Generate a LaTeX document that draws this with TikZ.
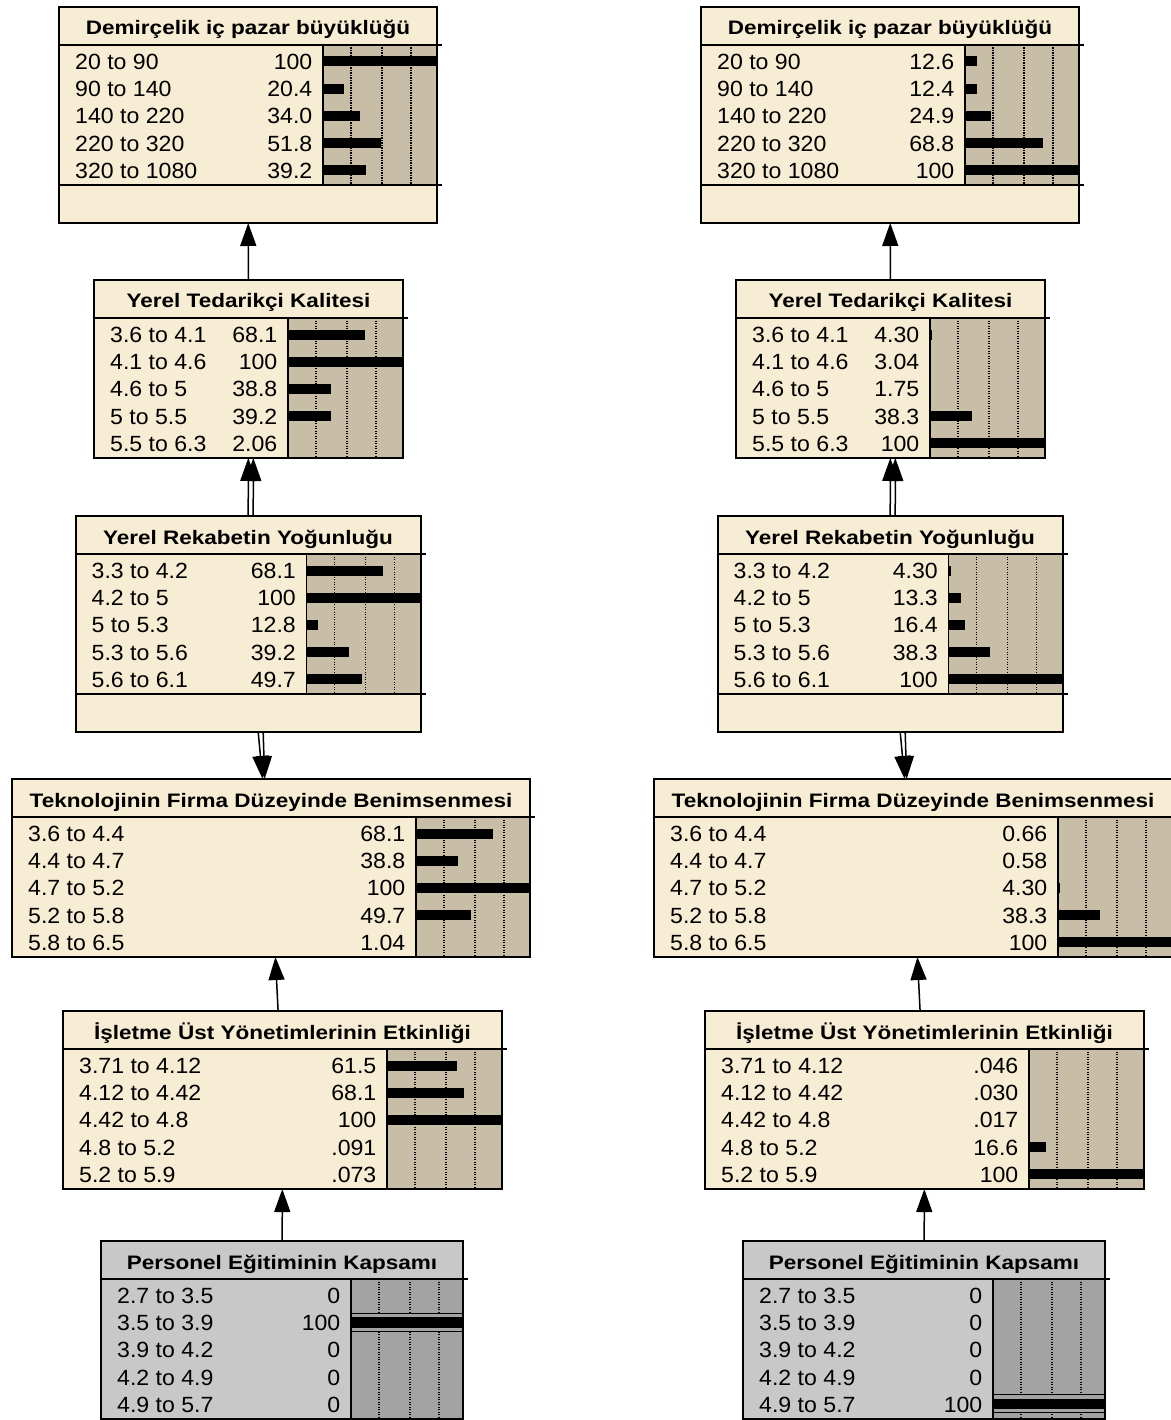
\documentclass[tikz,border=0pt]{standalone}
\usepackage{fontspec}
\usepackage{graphicx}
\usetikzlibrary{arrows.meta,calc}
\newfontfamily\rowfont[FakeStretch=1.05]{Liberation Sans}
\newfontfamily\ttlfont[FakeStretch=1.155]{Liberation Sans}
\definecolor{beigebody}{RGB}{247,236,212}
\definecolor{beigepanel}{RGB}{200,190,168}
\definecolor{graybody}{RGB}{200,200,200}
\definecolor{graypanel}{RGB}{163,163,163}
\tikzset{
  boxframe/.style={draw=black, line width=2pt, inner sep=0pt, outer sep=0pt, anchor=north west},
  sepline/.style={line width=1.6pt},
  gridline/.style={line width=1.3pt, dash pattern=on 1.2pt off 1.3pt},
  rowtext/.style={inner sep=0pt, font=\rowfont\fontsize{22}{24}\selectfont},
  titletext/.style={inner sep=0pt, font=\ttlfont\bfseries\fontsize{19.5}{22}\selectfont},
  conn/.style={line width=1.5pt, -{Triangle[length=23pt,width=16pt]}},
}
% #1 name, #2 left, #3 top, #4 right, #5 panel x, #6 footer height, #7 colour prefix, #8 title, #9 rows
\newcommand\netbox[9]{%
  \pgfmathsetmacro\nbW{#4-#2}%
  \pgfmathsetmacro\nbH{178+#6}%
  \pgfmathsetmacro\nbS{#3+38}%
  \pgfmathsetmacro\nbR{#3+178}%
  \pgfmathsetmacro\nbP{#4-#5}%
  \node[boxframe, fill=#7body, minimum width=\nbW pt, minimum height=\nbH pt] (#1) at (#2,#3) {};
  \fill[#7panel] (#5,\nbS) rectangle (#4,\nbR);
  \foreach \dx in {28,59,88} \draw[gridline] (#5+\dx,\nbS) -- (#5+\dx,\nbR);
  \foreach \lab/\val/\pct/\hil [count=\i from 0] in {#9} {
    \pgfmathsetmacro\nbC{\nbS+16.5+27.2*\i}
    \pgfmathsetmacro\nbB{\nbS+24.5+27.2*\i}
    \pgfmathsetmacro\nbL{\pct/100*(\nbP+3)-3}
    \ifnum\hil=1
      \fill[#7panel] (#5,\nbC-9.5) rectangle (#4,\nbC+8.5);
      \draw[line width=1pt] (#5,\nbC-9.5) -- (#4,\nbC-9.5);
      \draw[line width=1pt] (#5,\nbC+8.5) -- (#4,\nbC+8.5);
      \fill (#5,\nbC-5.5) rectangle (#4,\nbC+5);
    \else
      \ifdim\nbL pt>0.3pt \fill (#5,\nbC-5) rectangle (#5+\nbL,\nbC+5); \fi
    \fi
    \node[rowtext, anchor=base west] (#1-l\i) at (#2+16,\nbB) {\lab};
    \node[rowtext, anchor=base east] (#1-v\i) at (#5-10.5,\nbB) {\val};
  }
  \draw[sepline] (#2,\nbS) -- (#4+5,\nbS);
  \draw[sepline] (#5,\nbS) -- (#5,\nbR);
  \ifdim #6pt>0pt \draw[sepline] (#2,\nbR) -- (#4+5,\nbR); \fi
  \draw[line width=2pt] (#1.north west) rectangle (#1.south east);
  \node[titletext, anchor=base] (#1-t) at ({(#2+#4)/2},#3+28) {#8};
}
\begin{document}
\begin{tikzpicture}[x=1pt,y=-1pt]
\useasboundingbox (0,0) rectangle (1170,1420);
\fill[white] (0,0) rectangle (1170,1420);
% ---------- left column ----------
\netbox{LA}{59}{7}{437}{323}{38}{beige}{Demirçelik iç pazar büyüklüğü}
 {20 to 90/100/100/0, 90 to 140/20.4/20.4/0, 140 to 220/34.0/34.0/0, 220 to 320/51.8/51.8/0, 320 to 1080/39.2/39.2/0}
\netbox{LB}{94}{280}{403}{288}{0}{beige}{Yerel Tedarikçi Kalitesi}
 {3.6 to 4.1/68.1/68.1/0, 4.1 to 4.6/100/100/0, 4.6 to 5/38.8/38.8/0, 5 to 5.5/39.2/39.2/0, 5.5 to 6.3/2.06/2.06/0}
\netbox{LC}{75.5}{516}{420.5}{306.5}{38}{beige}{Yerel Rekabetin Yoğunluğu}
 {3.3 to 4.2/68.1/68.1/0, 4.2 to 5/100/100/0, 5 to 5.3/12.8/12.8/0, 5.3 to 5.6/39.2/39.2/0, 5.6 to 6.1/49.7/49.7/0}
\netbox{LD}{12}{779}{530}{416}{0}{beige}{Teknolojinin Firma Düzeyinde Benimsenmesi}
 {3.6 to 4.4/68.1/68.1/0, 4.4 to 4.7/38.8/38.8/0, 4.7 to 5.2/100/100/0, 5.2 to 5.8/49.7/49.7/0, 5.8 to 6.5/1.04/1.04/0}
\netbox{LE}{63}{1011}{502}{387}{0}{beige}{İşletme Üst Yönetimlerinin Etkinliği}
 {3.71 to 4.12/61.5/61.5/0, 4.12 to 4.42/68.1/68.1/0, 4.42 to 4.8/100/100/0, 4.8 to 5.2/.091/0.091/0, 5.2 to 5.9/.073/0.073/0}
\netbox{LF}{101}{1241}{463}{351}{0}{gray}{Personel Eğitiminin Kapsamı}
 {2.7 to 3.5/0/0/0, 3.5 to 3.9/100/100/1, 3.9 to 4.2/0/0/0, 4.2 to 4.9/0/0/0, 4.9 to 5.7/0/0/0}
% ---------- right column ----------
\netbox{RA}{701}{7}{1079}{965}{38}{beige}{Demirçelik iç pazar büyüklüğü}
 {20 to 90/12.6/12.6/0, 90 to 140/12.4/12.4/0, 140 to 220/24.9/24.9/0, 220 to 320/68.8/68.8/0, 320 to 1080/100/100/0}
\netbox{RB}{736}{280}{1045}{930}{0}{beige}{Yerel Tedarikçi Kalitesi}
 {3.6 to 4.1/4.30/4.30/0, 4.1 to 4.6/3.04/3.04/0, 4.6 to 5/1.75/1.75/0, 5 to 5.5/38.3/38.3/0, 5.5 to 6.3/100/100/0}
\netbox{RC}{717.5}{516}{1062.5}{948.5}{38}{beige}{Yerel Rekabetin Yoğunluğu}
 {3.3 to 4.2/4.30/4.30/0, 4.2 to 5/13.3/13.3/0, 5 to 5.3/16.4/16.4/0, 5.3 to 5.6/38.3/38.3/0, 5.6 to 6.1/100/100/0}
\netbox{RD}{654}{779}{1172}{1058}{0}{beige}{Teknolojinin Firma Düzeyinde Benimsenmesi}
 {3.6 to 4.4/0.66/0.66/0, 4.4 to 4.7/0.58/0.58/0, 4.7 to 5.2/4.30/4.30/0, 5.2 to 5.8/38.3/38.3/0, 5.8 to 6.5/100/100/0}
\netbox{RE}{705}{1011}{1144}{1029}{0}{beige}{İşletme Üst Yönetimlerinin Etkinliği}
 {3.71 to 4.12/.046/0.046/0, 4.12 to 4.42/.030/0.030/0, 4.42 to 4.8/.017/0.017/0, 4.8 to 5.2/16.6/16.6/0, 5.2 to 5.9/100/100/0}
\netbox{RF}{743}{1241}{1105}{993}{0}{gray}{Personel Eğitiminin Kapsamı}
 {2.7 to 3.5/0/0/0, 3.5 to 3.9/0/0/0, 3.9 to 4.2/0/0/0, 4.2 to 4.9/0/0/0, 4.9 to 5.7/100/100/1}
% ---------- connectors ----------
\foreach \s in {L,R} {
  \draw[conn] (\s B) -- (\s A);
  \draw[conn] (\s C) -- (\s B);
  \draw[conn, transform canvas={xshift=5pt}] (\s C) -- (\s B);
  \draw[conn] (\s C) -- (\s D);
  \path (\s C) -- (\s D) coordinate[pos=0] (\s CDa) coordinate[pos=1] (\s CDb);
  \draw[conn] ([xshift=5pt]\s CDa) -- ([xshift=2pt]\s CDb);
  \draw[conn] (\s E) -- (\s D);
  \draw[conn] (\s F) -- (\s E);
}
\end{tikzpicture}
\end{document}
